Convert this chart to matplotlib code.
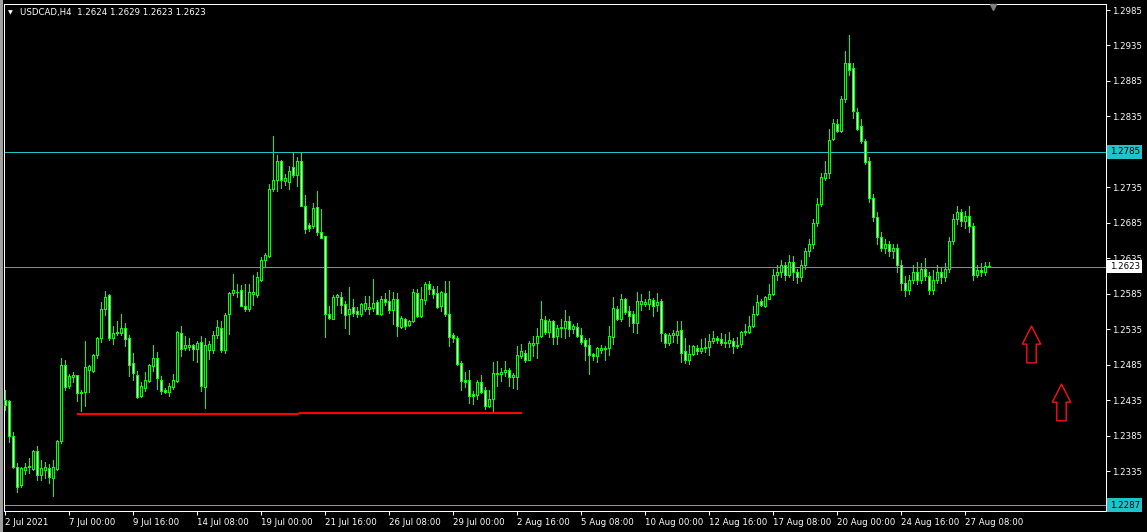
import matplotlib
matplotlib.use('Agg')
import matplotlib.pyplot as plt
from matplotlib.path import Path
from matplotlib import transforms
import numpy as np

# ---------------- data (USDCAD H4) ----------------
opens = [1.2435, 1.2434, 1.2384, 1.2341, 1.2315, 1.2337, 1.2340, 1.2338, 1.2363, 1.2330,
         1.2337, 1.2339, 1.2325, 1.2338, 1.2378, 1.2485, 1.2455, 1.2467, 1.2470, 1.2445,
         1.2446, 1.2477, 1.2476, 1.2498, 1.2522, 1.2564, 1.2583, 1.2522, 1.2530, 1.2529,
         1.2536, 1.2522, 1.2487, 1.2471, 1.2441, 1.2452, 1.2462, 1.2483, 1.2494, 1.2464,
         1.2449, 1.2446, 1.2453, 1.2462, 1.2529, 1.2509, 1.2510, 1.2512, 1.2507, 1.2517,
         1.2454, 1.2505, 1.2505, 1.2527, 1.2536, 1.2506, 1.2556, 1.2586, 1.2587, 1.2590,
         1.2568, 1.2563, 1.2584, 1.2583, 1.2604, 1.2633, 1.2638, 1.2733, 1.2745, 1.2772,
         1.2744, 1.2743, 1.2764, 1.2753, 1.2772, 1.2709, 1.2682, 1.2680, 1.2707, 1.2672,
         1.2666, 1.2557, 1.2550, 1.2581, 1.2581, 1.2570, 1.2557, 1.2566, 1.2561, 1.2557,
         1.2563, 1.2564, 1.2565, 1.2573, 1.2556, 1.2578, 1.2575, 1.2562, 1.2577, 1.2538,
         1.2550, 1.2541, 1.2546, 1.2586, 1.2554, 1.2576, 1.2599, 1.2592, 1.2586, 1.2568,
         1.2586, 1.2557, 1.2527, 1.2523, 1.2487, 1.2463, 1.2463, 1.2444, 1.2442, 1.2460,
         1.2449, 1.2427, 1.2437, 1.2472, 1.2472, 1.2475, 1.2477, 1.2467, 1.2468, 1.2497,
         1.2502, 1.2492, 1.2513, 1.2515, 1.2526, 1.2548, 1.2531, 1.2546, 1.2526, 1.2536,
         1.2537, 1.2546, 1.2535, 1.2538, 1.2527, 1.2520, 1.2512, 1.2500, 1.2497, 1.2506,
         1.2507, 1.2509, 1.2524, 1.2563, 1.2549, 1.2577, 1.2560, 1.2557, 1.2543, 1.2571,
         1.2571, 1.2570, 1.2576, 1.2569, 1.2575, 1.2528, 1.2515, 1.2527, 1.2527, 1.2534,
         1.2504, 1.2491, 1.2500, 1.2509, 1.2504, 1.2508, 1.2510, 1.2518, 1.2522, 1.2521,
         1.2517, 1.2515, 1.2519, 1.2511, 1.2514, 1.2531, 1.2531, 1.2539, 1.2557, 1.2575,
         1.2568, 1.2578, 1.2584, 1.2611, 1.2615, 1.2625, 1.2612, 1.2630, 1.2615, 1.2608,
         1.2625, 1.2645, 1.2655, 1.2685, 1.2712, 1.2748, 1.2755, 1.2803, 1.2824, 1.2815,
         1.2859, 1.2911, 1.2903, 1.2841, 1.2822, 1.2800, 1.2772, 1.2720, 1.2693, 1.2665,
         1.2650, 1.2655, 1.2645, 1.2650, 1.2625, 1.2600, 1.2590, 1.2605, 1.2615, 1.2605,
         1.2620, 1.2610, 1.2590, 1.2605, 1.2615, 1.2608, 1.2620, 1.2660, 1.2690, 1.2700,
         1.2688, 1.2695, 1.2680, 1.2612, 1.2618, 1.2615, 1.2624]
highs = [1.2449, 1.2435, 1.2390, 1.2346, 1.2341, 1.2346, 1.2353, 1.2365, 1.2370, 1.2351,
         1.2348, 1.2345, 1.2351, 1.2379, 1.2494, 1.2492, 1.2472, 1.2474, 1.2471, 1.2449,
         1.2519, 1.2485, 1.2500, 1.2524, 1.2574, 1.2589, 1.2584, 1.2539, 1.2547, 1.2556,
         1.2544, 1.2527, 1.2502, 1.2476, 1.2461, 1.2475, 1.2486, 1.2513, 1.2503, 1.2469,
         1.2452, 1.2459, 1.2472, 1.2532, 1.2539, 1.2525, 1.2523, 1.2514, 1.2519, 1.2525,
         1.2522, 1.2519, 1.2532, 1.2548, 1.2546, 1.2558, 1.2587, 1.2613, 1.2599, 1.2597,
         1.2599, 1.2599, 1.2611, 1.2615, 1.2637, 1.2643, 1.2739, 1.2807, 1.2781, 1.2773,
         1.2754, 1.2765, 1.2785, 1.2778, 1.2785, 1.2724, 1.2684, 1.2713, 1.2730, 1.2704,
         1.2666, 1.2568, 1.2583, 1.2585, 1.2587, 1.2575, 1.2594, 1.2578, 1.2566, 1.2572,
         1.2582, 1.2582, 1.2606, 1.2576, 1.2582, 1.2586, 1.2590, 1.2587, 1.2586, 1.2553,
         1.2551, 1.2548, 1.2592, 1.2592, 1.2594, 1.2601, 1.2603, 1.2596, 1.2596, 1.2589,
         1.2603, 1.2603, 1.2529, 1.2525, 1.2490, 1.2474, 1.2478, 1.2448, 1.2463, 1.2470,
         1.2453, 1.2449, 1.2488, 1.2490, 1.2480, 1.2490, 1.2480, 1.2473, 1.2511, 1.2514,
         1.2506, 1.2519, 1.2525, 1.2537, 1.2575, 1.2554, 1.2550, 1.2548, 1.2541, 1.2550,
         1.2562, 1.2554, 1.2542, 1.2544, 1.2537, 1.2522, 1.2522, 1.2502, 1.2510, 1.2512,
         1.2511, 1.2539, 1.2581, 1.2567, 1.2584, 1.2579, 1.2568, 1.2560, 1.2587, 1.2584,
         1.2577, 1.2589, 1.2579, 1.2586, 1.2577, 1.2530, 1.2530, 1.2534, 1.2546, 1.2547,
         1.2522, 1.2513, 1.2513, 1.2513, 1.2521, 1.2522, 1.2528, 1.2532, 1.2525, 1.2529,
         1.2528, 1.2531, 1.2522, 1.2524, 1.2532, 1.2542, 1.2553, 1.2567, 1.2583, 1.2577,
         1.2582, 1.2599, 1.2620, 1.2625, 1.2633, 1.2630, 1.2640, 1.2638, 1.2620, 1.2632,
         1.2650, 1.2662, 1.2690, 1.2720, 1.2755, 1.2772, 1.2817, 1.2831, 1.2832, 1.2864,
         1.2927, 1.2950, 1.2911, 1.2847, 1.2831, 1.2803, 1.2778, 1.2725, 1.2700, 1.2672,
         1.2662, 1.2660, 1.2655, 1.2655, 1.2632, 1.2610, 1.2612, 1.2625, 1.2630, 1.2628,
         1.2635, 1.2615, 1.2618, 1.2625, 1.2622, 1.2628, 1.2665, 1.2698, 1.2708, 1.2705,
         1.2702, 1.2708, 1.2685, 1.2625, 1.2628, 1.2630, 1.2629]
lows = [1.2421, 1.2376, 1.2339, 1.2306, 1.2313, 1.2331, 1.2332, 1.2336, 1.2322, 1.2322,
        1.2325, 1.2318, 1.2300, 1.2336, 1.2374, 1.2449, 1.2452, 1.2460, 1.2434, 1.2420,
        1.2426, 1.2447, 1.2474, 1.2495, 1.2517, 1.2555, 1.2520, 1.2514, 1.2527, 1.2527,
        1.2511, 1.2469, 1.2463, 1.2438, 1.2440, 1.2448, 1.2460, 1.2476, 1.2450, 1.2444,
        1.2445, 1.2441, 1.2451, 1.2461, 1.2497, 1.2505, 1.2506, 1.2492, 1.2489, 1.2448,
        1.2424, 1.2493, 1.2502, 1.2522, 1.2503, 1.2502, 1.2528, 1.2583, 1.2581, 1.2567,
        1.2561, 1.2561, 1.2569, 1.2581, 1.2603, 1.2623, 1.2637, 1.2730, 1.2730, 1.2734,
        1.2738, 1.2732, 1.2749, 1.2737, 1.2709, 1.2671, 1.2673, 1.2678, 1.2668, 1.2663,
        1.2524, 1.2549, 1.2549, 1.2569, 1.2558, 1.2537, 1.2528, 1.2553, 1.2552, 1.2554,
        1.2561, 1.2557, 1.2560, 1.2556, 1.2555, 1.2569, 1.2558, 1.2542, 1.2525, 1.2536,
        1.2535, 1.2539, 1.2545, 1.2552, 1.2552, 1.2570, 1.2585, 1.2579, 1.2565, 1.2560,
        1.2553, 1.2511, 1.2517, 1.2484, 1.2449, 1.2454, 1.2431, 1.2429, 1.2436, 1.2445,
        1.2423, 1.2425, 1.2420, 1.2455, 1.2462, 1.2469, 1.2455, 1.2452, 1.2451, 1.2494,
        1.2488, 1.2492, 1.2497, 1.2495, 1.2524, 1.2528, 1.2524, 1.2514, 1.2514, 1.2524,
        1.2522, 1.2525, 1.2530, 1.2524, 1.2514, 1.2491, 1.2472, 1.2492, 1.2489, 1.2502,
        1.2492, 1.2499, 1.2514, 1.2548, 1.2546, 1.2557, 1.2539, 1.2531, 1.2530, 1.2562,
        1.2567, 1.2563, 1.2553, 1.2561, 1.2519, 1.2510, 1.2513, 1.2517, 1.2515, 1.2488,
        1.2487, 1.2486, 1.2499, 1.2500, 1.2501, 1.2503, 1.2499, 1.2515, 1.2516, 1.2513,
        1.2510, 1.2510, 1.2502, 1.2508, 1.2510, 1.2527, 1.2529, 1.2538, 1.2555, 1.2568,
        1.2566, 1.2577, 1.2583, 1.2605, 1.2608, 1.2605, 1.2608, 1.2605, 1.2600, 1.2603,
        1.2620, 1.2638, 1.2650, 1.2680, 1.2708, 1.2745, 1.2748, 1.2802, 1.2813, 1.2813,
        1.2856, 1.2894, 1.2833, 1.2816, 1.2797, 1.2768, 1.2715, 1.2688, 1.2655, 1.2645,
        1.2642, 1.2638, 1.2635, 1.2615, 1.2590, 1.2582, 1.2585, 1.2600, 1.2598, 1.2600,
        1.2605, 1.2585, 1.2585, 1.2600, 1.2600, 1.2603, 1.2615, 1.2655, 1.2683, 1.2680,
        1.2678, 1.2672, 1.2605, 1.2608, 1.2610, 1.2612, 1.2623]
closes = [1.2428, 1.2385, 1.2341, 1.2313, 1.2339, 1.2341, 1.2342, 1.2363, 1.2330, 1.2339,
          1.2341, 1.2326, 1.2340, 1.2377, 1.2484, 1.2454, 1.2469, 1.2470, 1.2445, 1.2446,
          1.2481, 1.2483, 1.2498, 1.2522, 1.2563, 1.2581, 1.2523, 1.2529, 1.2531, 1.2536,
          1.2521, 1.2485, 1.2473, 1.2440, 1.2455, 1.2463, 1.2484, 1.2494, 1.2466, 1.2448,
          1.2446, 1.2455, 1.2463, 1.2531, 1.2507, 1.2512, 1.2512, 1.2507, 1.2515, 1.2455,
          1.2512, 1.2514, 1.2527, 1.2538, 1.2505, 1.2555, 1.2586, 1.2590, 1.2588, 1.2568,
          1.2563, 1.2587, 1.2588, 1.2609, 1.2633, 1.2640, 1.2732, 1.2745, 1.2772, 1.2745,
          1.2748, 1.2758, 1.2752, 1.2772, 1.2709, 1.2676, 1.2678, 1.2706, 1.2672, 1.2664,
          1.2557, 1.2551, 1.2581, 1.2583, 1.2569, 1.2555, 1.2564, 1.2558, 1.2557, 1.2570,
          1.2572, 1.2566, 1.2572, 1.2557, 1.2577, 1.2573, 1.2562, 1.2578, 1.2540, 1.2551,
          1.2540, 1.2546, 1.2587, 1.2553, 1.2577, 1.2599, 1.2592, 1.2584, 1.2566, 1.2587,
          1.2557, 1.2524, 1.2522, 1.2486, 1.2462, 1.2460, 1.2441, 1.2441, 1.2460, 1.2447,
          1.2427, 1.2436, 1.2473, 1.2473, 1.2475, 1.2477, 1.2468, 1.2470, 1.2498, 1.2504,
          1.2492, 1.2515, 1.2515, 1.2525, 1.2549, 1.2531, 1.2546, 1.2524, 1.2536, 1.2538,
          1.2546, 1.2535, 1.2539, 1.2526, 1.2517, 1.2511, 1.2498, 1.2497, 1.2508, 1.2508,
          1.2509, 1.2525, 1.2565, 1.2550, 1.2578, 1.2559, 1.2554, 1.2543, 1.2575, 1.2575,
          1.2573, 1.2577, 1.2568, 1.2573, 1.2529, 1.2516, 1.2527, 1.2529, 1.2532, 1.2502,
          1.2491, 1.2500, 1.2511, 1.2504, 1.2509, 1.2510, 1.2518, 1.2523, 1.2520, 1.2516,
          1.2516, 1.2520, 1.2511, 1.2513, 1.2531, 1.2533, 1.2539, 1.2557, 1.2574, 1.2569,
          1.2580, 1.2585, 1.2611, 1.2615, 1.2625, 1.2612, 1.2630, 1.2615, 1.2608, 1.2625,
          1.2645, 1.2655, 1.2685, 1.2712, 1.2750, 1.2755, 1.2802, 1.2825, 1.2814, 1.2860,
          1.2911, 1.2901, 1.2842, 1.2817, 1.2801, 1.2771, 1.2720, 1.2693, 1.2665, 1.2650,
          1.2655, 1.2645, 1.2650, 1.2625, 1.2600, 1.2590, 1.2605, 1.2615, 1.2605, 1.2620,
          1.2610, 1.2590, 1.2605, 1.2615, 1.2608, 1.2620, 1.2660, 1.2690, 1.2700, 1.2688,
          1.2695, 1.2680, 1.2612, 1.2618, 1.2615, 1.2624, 1.2623]

time_tick_bars = [0, 16, 32, 48, 64, 80, 96, 112, 128, 144, 160, 176, 192, 208, 224, 240]
time_tick_labels = ['2 Jul 2021', '7 Jul 00:00', '9 Jul 16:00', '14 Jul 08:00', '19 Jul 00:00',
                    '21 Jul 16:00', '26 Jul 08:00', '29 Jul 00:00', '2 Aug 16:00', '5 Aug 08:00',
                    '10 Aug 00:00', '12 Aug 16:00', '17 Aug 08:00', '20 Aug 00:00', '24 Aug 16:00',
                    '27 Aug 08:00']
price_ticks = [1.2985, 1.2935, 1.2885, 1.2835, 1.2785, 1.2735, 1.2685, 1.2635,
               1.2585, 1.2535, 1.2485, 1.2435, 1.2385, 1.2335]
cyan_levels = [1.2785, 1.2287]
bid_price = 1.2623
support_bars = [[17.9, 73.4], [73.4, 129.1]]
support_prices = [[1.2416, 1.2416], [1.2417, 1.2417]]
arrow_bars = [256.5, 264.0]
arrow_prices = [1.2514, 1.2432]
symbol = 'USDCAD,H4'

# ---------------- styling ----------------
W, H = 1147, 532
BG = 'black'
FG = 'white'
LIME = '#00ff00'
CYAN = '#1fc3cc'
GRAY = '#8c8c8c'
FS = 6.2
plt.rcParams['font.family'] = ['DejaVu Sans']

fig = plt.figure(figsize=(W / 100, H / 100), dpi=100, facecolor=BG)
L, R, T, B = 4, 1106, 4, 511
ax = fig.add_axes([L / W, (H - B) / H, (R - L) / W, (B - T) / H], facecolor=BG)

n = len(opens)
x = np.arange(n)
o = np.array(opens); h = np.array(highs); lo = np.array(lows); c = np.array(closes)
bull = c >= o
bottom = np.minimum(o, c)
height = np.abs(c - o)
px = 0.72

ax.vlines(x, lo, h, color=LIME, linewidth=px, antialiased=False, zorder=3)
ax.bar(x, height, bottom=bottom, width=0.5,
       color=np.where(bull, 'black', 'white'), edgecolor=LIME,
       linewidth=px, antialiased=False, zorder=4)

# horizontal levels
for lv in cyan_levels:
    ax.axhline(lv, color=CYAN, linewidth=px, zorder=2)
ax.axhline(bid_price, color=GRAY, linewidth=px, zorder=2)

# red support lines
for xs, ys in zip(support_bars, support_prices):
    ax.plot(xs, ys, color='#ff0000', linewidth=1.5, solid_capstyle='butt', zorder=5)

# hollow red up arrows
verts = [(0, 1), (0.5, 0.02), (0.256, 0.02), (0.256, -1), (-0.256, -1),
         (-0.256, 0.02), (-0.5, 0.02), (0, 1)]
arrow_path = Path(verts, [Path.MOVETO] + [Path.LINETO] * 6 + [Path.CLOSEPOLY])
ax.plot(arrow_bars, arrow_prices, linestyle='none', marker=arrow_path, markersize=26.4,
        markerfacecolor='none', markeredgecolor='#ff1010', markeredgewidth=1.0, zorder=6)

ax.set_xlim(-0.33, 275.17)
ax.set_ylim(1.22786, 1.29935)

for s in ax.spines.values():
    s.set_color(FG)
    s.set_linewidth(px)

ax.yaxis.tick_right()
ax.set_yticks(price_ticks)
# the 1.2785 scale label sits under the level tag that shows the same value
ax.set_yticklabels(['' if abs(p - cyan_levels[0]) < 1e-9 else f'{p:.4f}' for p in price_ticks])
ax.tick_params(axis='y', colors=FG, labelsize=FS, length=3, width=px, pad=1.4,
               direction='out', left=False, right=True)
ax.set_xticks(time_tick_bars)
ax.set_xticklabels(time_tick_labels, ha='left')
ax.tick_params(axis='x', colors=FG, labelsize=FS, length=3, width=px, pad=2,
               direction='out')

# price tags on the right scale
tag_tr = transforms.blended_transform_factory(ax.transAxes, ax.transData)
for lv in cyan_levels:
    ax.text(1.0032, lv, f'{lv:.4f}', transform=tag_tr, ha='left', va='center',
            fontsize=FS, color='black', clip_on=False, zorder=10,
            bbox=dict(boxstyle='square,pad=0.25', fc=CYAN, ec='none'))
ax.text(1.0032, bid_price, f'{bid_price:.4f}', transform=tag_tr, ha='left', va='center',
        fontsize=FS, color='black', clip_on=False, zorder=10,
        bbox=dict(boxstyle='square,pad=0.25', fc='white', ec='none'))

# title
fig.text(8 / W, 1 - 12.5 / H, '\u25bc', fontsize=4.5, color=FG, va='center', ha='left')
fig.text(20 / W, 1 - 12.5 / H,
         f'{symbol}  {opens[-1]:.4f} {highs[-1]:.4f} {lows[-1]:.4f} {closes[-1]:.4f}',
         fontsize=FS, color=FG, va='center', ha='left')

# chart shift marker
fig.lines.append(plt.Line2D([993 / W], [1 - 7 / H], transform=fig.transFigure,
                            marker='v', markersize=5, color='#808080', linestyle='none'))
# left window border strip
fig.patches.append(plt.Rectangle((0, 0), 2.5 / W, 1, transform=fig.transFigure,
                                 facecolor='#a0a0a0', edgecolor='none'))

fig.savefig('out.png', dpi=100, facecolor=BG)
